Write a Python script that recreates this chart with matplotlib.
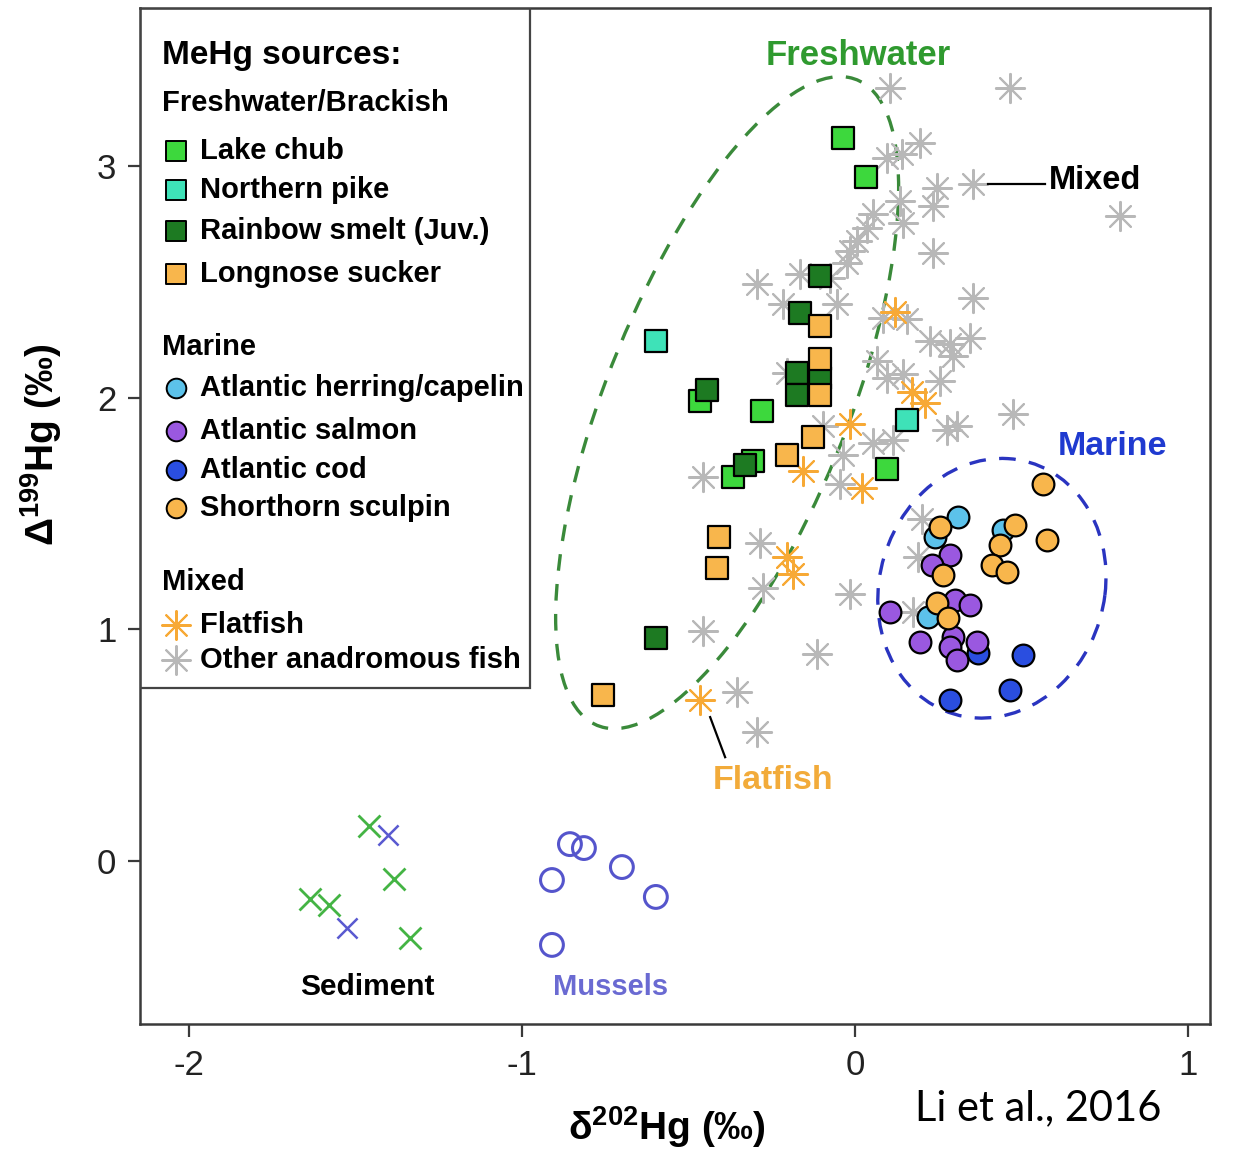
import matplotlib
matplotlib.use("Agg")
import matplotlib.pyplot as plt
from matplotlib.patches import Ellipse, Rectangle
from matplotlib import font_manager

plt.rcParams['font.family'] = ['Liberation Sans', 'DejaVu Sans']
plt.rcParams['mathtext.fontset'] = 'custom'
plt.rcParams['mathtext.rm'] = 'Liberation Sans'
plt.rcParams['mathtext.bf'] = 'Liberation Sans:bold'
plt.rcParams['mathtext.default'] = 'bf'
plt.rcParams['axes.unicode_minus'] = False

# ---- Freshwater / brackish fish (d202Hg, D199Hg) ----
lake_chub_x = [-0.036, 0.033, -0.279, 0.096, -0.465, -0.366, -0.306]
lake_chub_y = [3.121, 2.953, 1.940, 1.690, 1.983, 1.655, 1.724]

northern_pike_x = [-0.598, 0.156]
northern_pike_y = [2.246, 1.901]

rainbow_smelt_x = [-0.105, -0.165, -0.105, -0.174, -0.174, -0.444, -0.330, -0.598]
rainbow_smelt_y = [2.526, 2.366, 2.086, 2.108, 2.009, 2.034, 1.711, 0.961]

longnose_x = [-0.105, -0.105, -0.105, -0.126, -0.204, -0.408, -0.414, -0.757]
longnose_y = [2.310, 2.168, 2.009, 1.828, 1.750, 1.397, 1.263, 0.716]

# ---- Marine fish ----
herring_x = [0.309, 0.240, 0.444, 0.219]
herring_y = [1.483, 1.397, 1.427, 1.052]

salmon_x = [0.285, 0.231, 0.300, 0.345, 0.105, 0.195, 0.294, 0.285, 0.366, 0.306]
salmon_y = [1.319, 1.276, 1.125, 1.103, 1.073, 0.944, 0.966, 0.922, 0.944, 0.866]

cod_x = [0.369, 0.505, 0.285, 0.465]
cod_y = [0.897, 0.888, 0.694, 0.737]

sculpin_x = [0.565, 0.255, 0.480, 0.435, 0.577, 0.411, 0.456, 0.264, 0.246, 0.279]
sculpin_y = [1.629, 1.440, 1.448, 1.362, 1.384, 1.276, 1.246, 1.233, 1.112, 1.047]

# ---- Mixed ----
flatfish_x = [0.120, 0.171, 0.210, -0.015, -0.156, 0.021, -0.204, -0.186, -0.465]
flatfish_y = [2.371, 2.022, 1.978, 1.884, 1.681, 1.608, 1.310, 1.237, 0.694]

anadromous_x = [0.105, 0.465, 0.195, 0.096, 0.141, 0.354, 0.246, 0.234, 0.144, 0.135,
                0.054, 0.036, 0.006, -0.015, -0.024, 0.234, 0.796, -0.294, -0.165, -0.075,
                0.354, -0.216, -0.054, 0.084, 0.156, 0.225, 0.285, 0.345, 0.294, 0.066,
                0.096, 0.144, 0.255, -0.204, 0.474, 0.306, 0.276, 0.054, 0.114, -0.036,
                -0.096, -0.045, -0.456, -0.285, -0.276, -0.015, -0.456, -0.114, -0.354, -0.294,
                0.201, 0.189, 0.174]
anadromous_y = [3.336, 3.336, 3.099, 3.034, 3.052, 2.922, 2.905, 2.828, 2.754, 2.849,
                2.793, 2.733, 2.677, 2.634, 2.582, 2.625, 2.784, 2.491, 2.534, 2.517,
                2.431, 2.405, 2.405, 2.345, 2.341, 2.246, 2.233, 2.259, 2.181, 2.159,
                2.086, 2.103, 2.073, 2.108, 1.931, 1.879, 1.858, 1.802, 1.815, 1.750,
                1.879, 1.629, 1.655, 1.371, 1.177, 1.151, 0.991, 0.892, 0.728, 0.556,
                1.478, 1.310, 1.073]

# ---- Sediment and mussels ----
sediment_green_x = [-1.459, -1.384, -1.637, -1.580, -1.336]
sediment_green_y = [0.151, -0.078, -0.164, -0.190, -0.332]
sediment_blue_x = [-1.402, -1.526]
sediment_blue_y = [0.112, -0.289]

mussels_x = [-0.856, -0.814, -0.700, -0.910, -0.598, -0.910]
mussels_y = [0.073, 0.056, -0.026, -0.082, -0.155, -0.362]

x_ticks = [-2, -1, 0, 1]
y_ticks = [0, 1, 2, 3]

# colours
C_CHUB = '#3dd83d'
C_PIKE = '#3ee2b8'
C_SMELT = '#1d7a22'
C_SUCKER = '#f8b64c'
C_HERRING = '#5cc2ea'
C_SALMON = '#9a58e0'
C_COD = '#2a4ee0'
C_SCULPIN = '#f8b64c'
C_FLAT = '#f7a935'
C_OTHER = '#b8b8b8'
C_FRESH = '#3a8a3a'
C_MARINE = '#2a34c0'

installed = {f.name for f in font_manager.fontManager.ttflist}
tick_family = ['Liberation Sans Narrow'] if 'Liberation Sans Narrow' in installed else ['Liberation Sans']

fig = plt.figure(figsize=(12.43, 11.54), dpi=100)
ax = fig.add_axes([0.1126, 0.1127, 0.8609, 0.8804])
ax.set_xlim(-2.147, 1.066)
ax.set_ylim(-0.703, 3.681)

STAR = (8, 2, 0)
SQ = dict(marker='s', s=240, edgecolors='black', linewidths=1.6)
CI = dict(marker='o', s=245, edgecolors='black', linewidths=1.6)

ax.scatter(anadromous_x, anadromous_y, marker=STAR, s=440, color=C_OTHER, linewidths=1.5, zorder=2)
ax.scatter(flatfish_x, flatfish_y, marker=STAR, s=440, color=C_FLAT, linewidths=1.5, zorder=2.5)

ax.scatter(lake_chub_x, lake_chub_y, facecolors=C_CHUB, zorder=3, **SQ)
ax.scatter(northern_pike_x, northern_pike_y, facecolors=C_PIKE, zorder=3, **SQ)
ax.scatter(rainbow_smelt_x, rainbow_smelt_y, facecolors=C_SMELT, zorder=3.1, **SQ)
ax.scatter(longnose_x, longnose_y, facecolors=C_SUCKER, zorder=3.2, **SQ)

ax.scatter(herring_x, herring_y, facecolors=C_HERRING, zorder=3, **CI)
ax.scatter(cod_x, cod_y, facecolors=C_COD, zorder=3.1, **CI)
ax.scatter(salmon_x, salmon_y, facecolors=C_SALMON, zorder=3.2, **CI)
ax.scatter(sculpin_x, sculpin_y, facecolors=C_SCULPIN, zorder=3.3, **CI)

ax.scatter(sediment_green_x, sediment_green_y, marker='x', s=250, color='#44b444', linewidths=2.0, zorder=3)
ax.scatter(sediment_blue_x, sediment_blue_y, marker='x', s=210, color='#5a5ad0', linewidths=1.8, zorder=3)
ax.scatter(mussels_x, mussels_y, marker='o', s=270, facecolors='none', edgecolors='#5555cc', linewidths=2.2, zorder=3)

# group outlines
ax.add_patch(Ellipse((-0.384, 1.978), 2.90, 0.752, angle=75.45, fill=False,
                     edgecolor=C_FRESH, linestyle=(0, (5, 4)), linewidth=2.4, zorder=1.5))
ax.add_patch(Ellipse((0.411, 1.177), 1.123, 0.681, angle=85.1, fill=False,
                     edgecolor=C_MARINE, linestyle=(0, (5, 4)), linewidth=2.4, zorder=1.5))

# annotations
ax.text(0.009, 3.474, 'Freshwater', color='#2f9a2f', fontsize=25, fontweight='bold',
        ha='center', va='center', zorder=5)
ax.text(0.772, 1.789, 'Marine', color='#1f3ad0', fontsize=24.5, fontweight='bold',
        ha='center', va='center', zorder=5)
ax.plot([0.399, 0.571], [2.922, 2.922], color='black', linewidth=1.6, zorder=5)
ax.text(0.582, 2.935, 'Mixed', color='black', fontsize=23.5, fontweight='bold',
        ha='left', va='center', zorder=5)
ax.plot([-0.435, -0.390], [0.621, 0.448], color='black', linewidth=1.6, zorder=5)
ax.text(-0.246, 0.349, 'Flatfish', color='#f2ab3a', fontsize=24.5, fontweight='bold',
        ha='center', va='center', zorder=5)
ax.text(-1.465, -0.543, 'Sediment', color='black', fontsize=21.5, fontweight='bold',
        ha='center', va='center', zorder=5)
ax.text(-0.733, -0.543, 'Mussels', color='#6a6ad2', fontsize=21, fontweight='bold',
        ha='center', va='center', zorder=5)

# legend box
tA = ax.transAxes
ax.add_patch(Rectangle((0, 0.3307), 0.3645, 0.6693, transform=tA, fill=False,
                       edgecolor='#444444', linewidth=1.6, zorder=6))
hx, mx, tx = 0.0206, 0.0336, 0.0561
ax.text(hx, 0.9537, 'MeHg sources:', transform=tA, fontsize=24, fontweight='bold', va='center', zorder=7)
ax.text(hx, 0.9065, 'Freshwater/Brackish', transform=tA, fontsize=21, fontweight='bold', va='center', zorder=7)
ax.text(hx, 0.6663, 'Marine', transform=tA, fontsize=21, fontweight='bold', va='center', zorder=7)
ax.text(hx, 0.4350, 'Mixed', transform=tA, fontsize=21, fontweight='bold', va='center', zorder=7)

legend_items = [
    (0.8593, 'Lake chub', 's', C_CHUB),
    (0.8209, 'Northern pike', 's', C_PIKE),
    (0.7805, 'Rainbow smelt (Juv.)', 's', C_SMELT),
    (0.7382, 'Longnose sucker', 's', C_SUCKER),
    (0.6260, 'Atlantic herring/capelin', 'o', C_HERRING),
    (0.5837, 'Atlantic salmon', 'o', C_SALMON),
    (0.5453, 'Atlantic cod', 'o', C_COD),
    (0.5079, 'Shorthorn sculpin', 'o', C_SCULPIN),
    (0.3927, 'Flatfish', STAR, C_FLAT),
    (0.3583, 'Other anadromous fish', STAR, C_OTHER),
]
for ly, label, mk, col in legend_items:
    if mk == STAR:
        ax.scatter([mx], [ly], transform=tA, marker=mk, s=430, color=col, linewidths=1.5, zorder=7, clip_on=False)
    elif mk == 's':
        ax.scatter([mx], [ly], transform=tA, marker=mk, s=210, facecolors=col,
                   edgecolors='black', linewidths=1.4, zorder=7, clip_on=False)
    else:
        ax.scatter([mx], [ly], transform=tA, marker=mk, s=200, facecolors=col,
                   edgecolors='black', linewidths=1.4, zorder=7, clip_on=False)
    ax.text(tx, ly, label, transform=tA, fontsize=21, fontweight='bold', va='center', zorder=7)

# axes styling
for side in ['top', 'right', 'bottom', 'left']:
    ax.spines[side].set_linewidth(1.8)
    ax.spines[side].set_color('#3a3a3a')
ax.set_xticks(x_ticks)
ax.set_yticks(y_ticks)
ax.set_xticklabels([str(v) for v in x_ticks], family=tick_family)
ax.set_yticklabels([str(v) for v in y_ticks], family=tick_family)
ax.tick_params(axis='both', direction='out', length=9, width=1.6, color='#3a3a3a',
               labelsize=25, labelcolor='#222222')
ax.tick_params(axis='x', pad=9)
ax.tick_params(axis='y', pad=8)

ax.set_xlabel(r'δ$^{202}$Hg (‰)', fontsize=28, fontweight='bold')
ax.xaxis.label.set_va('center')
ax.xaxis.set_label_coords(0.4925, -0.102)
ax.set_ylabel(r'Δ$^{199}$Hg (‰)', fontsize=28, fontweight='bold')
ax.yaxis.label.set_va('center')
ax.yaxis.set_label_coords(-0.092, 0.570)

fig.text(1038 / 1243, 1 - 1108 / 1154, 'Li et al., 2016', family=['Lato', 'DejaVu Sans'],
         fontsize=30, ha='center', va='center')

fig.savefig('out.png', dpi=100, facecolor='white')
